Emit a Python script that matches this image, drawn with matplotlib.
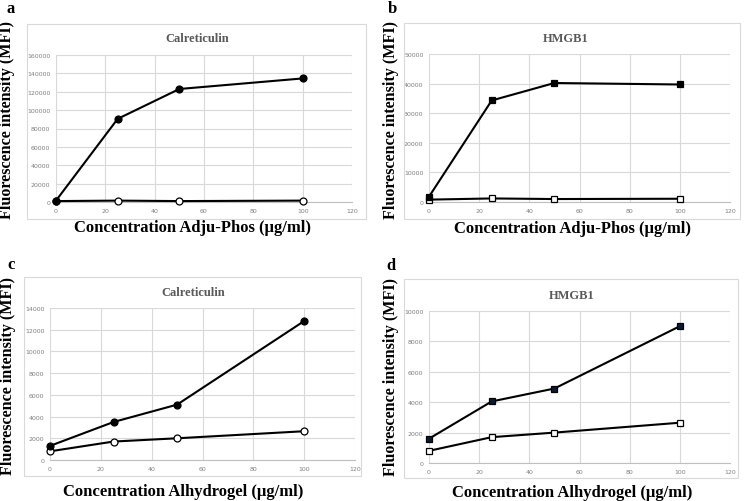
import matplotlib.pyplot as plt
from matplotlib.patches import Rectangle

conc = [0, 25, 50, 100]

# panel a - Calreticulin, Adju-Phos
a_treated = [1500, 90500, 123000, 134500]
a_control = [1000, 1500, 1000, 1500]
# panel b - HMGB1, Adju-Phos
b_treated = [1800, 34300, 40200, 39700]
b_control = [800, 1200, 1000, 1100]
# panel c - Calreticulin, Alhydrogel
c_treated = [1300, 3500, 5100, 12800]
c_control = [800, 1700, 2000, 2650]
# panel d - HMGB1, Alhydrogel
d_treated = [1600, 4050, 4900, 9000]
d_control = [800, 1700, 2000, 2650]

W, H = 746, 502
fig = plt.figure(figsize=(W / 100, H / 100), dpi=100)
serif = 'Liberation Serif'


def fx(x):
    return x / W


def fy(y):
    return 1 - y / H


def panel(letter, title, xlabel, treated, control, marker, ymax, ystep,
          plot_px, box_px, title_px, xlab_px, ylab_px, letter_px, fill='black'):
    l, r, b, t = plot_px
    ax = fig.add_axes([fx(l), fy(b), fx(r - l), (b - t) / H])
    # chart frame like Excel
    bl, bt, br, bb = box_px
    fig.add_artist(Rectangle((fx(bl), fy(bb)), fx(br - bl), (bb - bt) / H,
                             transform=fig.transFigure, fill=False,
                             edgecolor='#d9d9d9', lw=0.8))
    ax.plot(conc, control, '-', color='black', lw=1.5, marker=marker, ms=5,
            mfc='white', mec='black', mew=0.9, clip_on=False, zorder=3)
    ax.plot(conc, treated, '-', color='black', lw=1.5, marker=marker, ms=5,
            mfc=fill, mec='black', mew=0.9, clip_on=False, zorder=4)
    ax.set_xlim(0, 120)
    ax.set_ylim(0, ymax)
    ax.set_xticks(range(0, 121, 20))
    ax.set_yticks(range(0, ymax + 1, ystep))
    ax.grid(True, color='#d9d9d9', lw=0.8)
    ax.set_axisbelow(True)
    for s in ['top', 'right', 'left']:
        ax.spines[s].set_visible(False)
    ax.spines['bottom'].set_color('#bfbfbf')
    ax.tick_params(length=0, labelsize=4.5, labelcolor='#7f7f7f', pad=4)
    fig.text(fx(title_px[0]), fy(title_px[1]), title, family=serif,
             weight='bold', size=9, color='#595959', ha='center', va='center')
    fig.text(fx(xlab_px[0]), fy(xlab_px[1]), xlabel, family=serif,
             weight='bold', size=12, ha='center', va='center')
    fig.text(fx(ylab_px[0]), fy(ylab_px[1]), 'Fluorescence intensity (MFI)',
             family=serif, weight='bold', size=11.6, rotation=90,
             ha='center', va='center')
    fig.text(fx(letter_px[0]), fy(letter_px[1]), letter, family=serif,
             weight='bold', size=12, ha='center', va='baseline')


panel('a', 'Calreticulin', 'Concentration Adju-Phos (\u03bcg/ml)',
      a_treated, a_control, 'o', 160000, 20000,
      (56, 352, 203, 56), (27, 25, 366, 220), (197, 39), (193, 228),
      (7, 120), (11, 13))
panel('b', 'HMGB1', 'Concentration Adju-Phos (\u03bcg/ml)',
      b_treated, b_control, 's', 50000, 10000,
      (429, 730, 203, 55), (404, 24, 740, 220), (566, 39), (572, 229),
      (391, 120), (392, 13))
panel('c', 'Calreticulin', 'Concentration Alhydrogel (\u03bcg/ml)',
      c_treated, c_control, 'o', 14000, 2000,
      (50, 355, 461, 309), (24, 278, 361, 477), (193, 293), (183, 492),
      (8, 376), (11, 269))
panel('d', 'HMGB1', 'Concentration Alhydrogel (\u03bcg/ml)',
      d_treated, d_control, 's', 10000, 2000,
      (429, 730, 464, 312), (404, 280, 738, 479), (572, 296), (572, 493),
      (391, 377), (391, 270), fill='#0b1a33')

fig.savefig('out.png', dpi=100)
